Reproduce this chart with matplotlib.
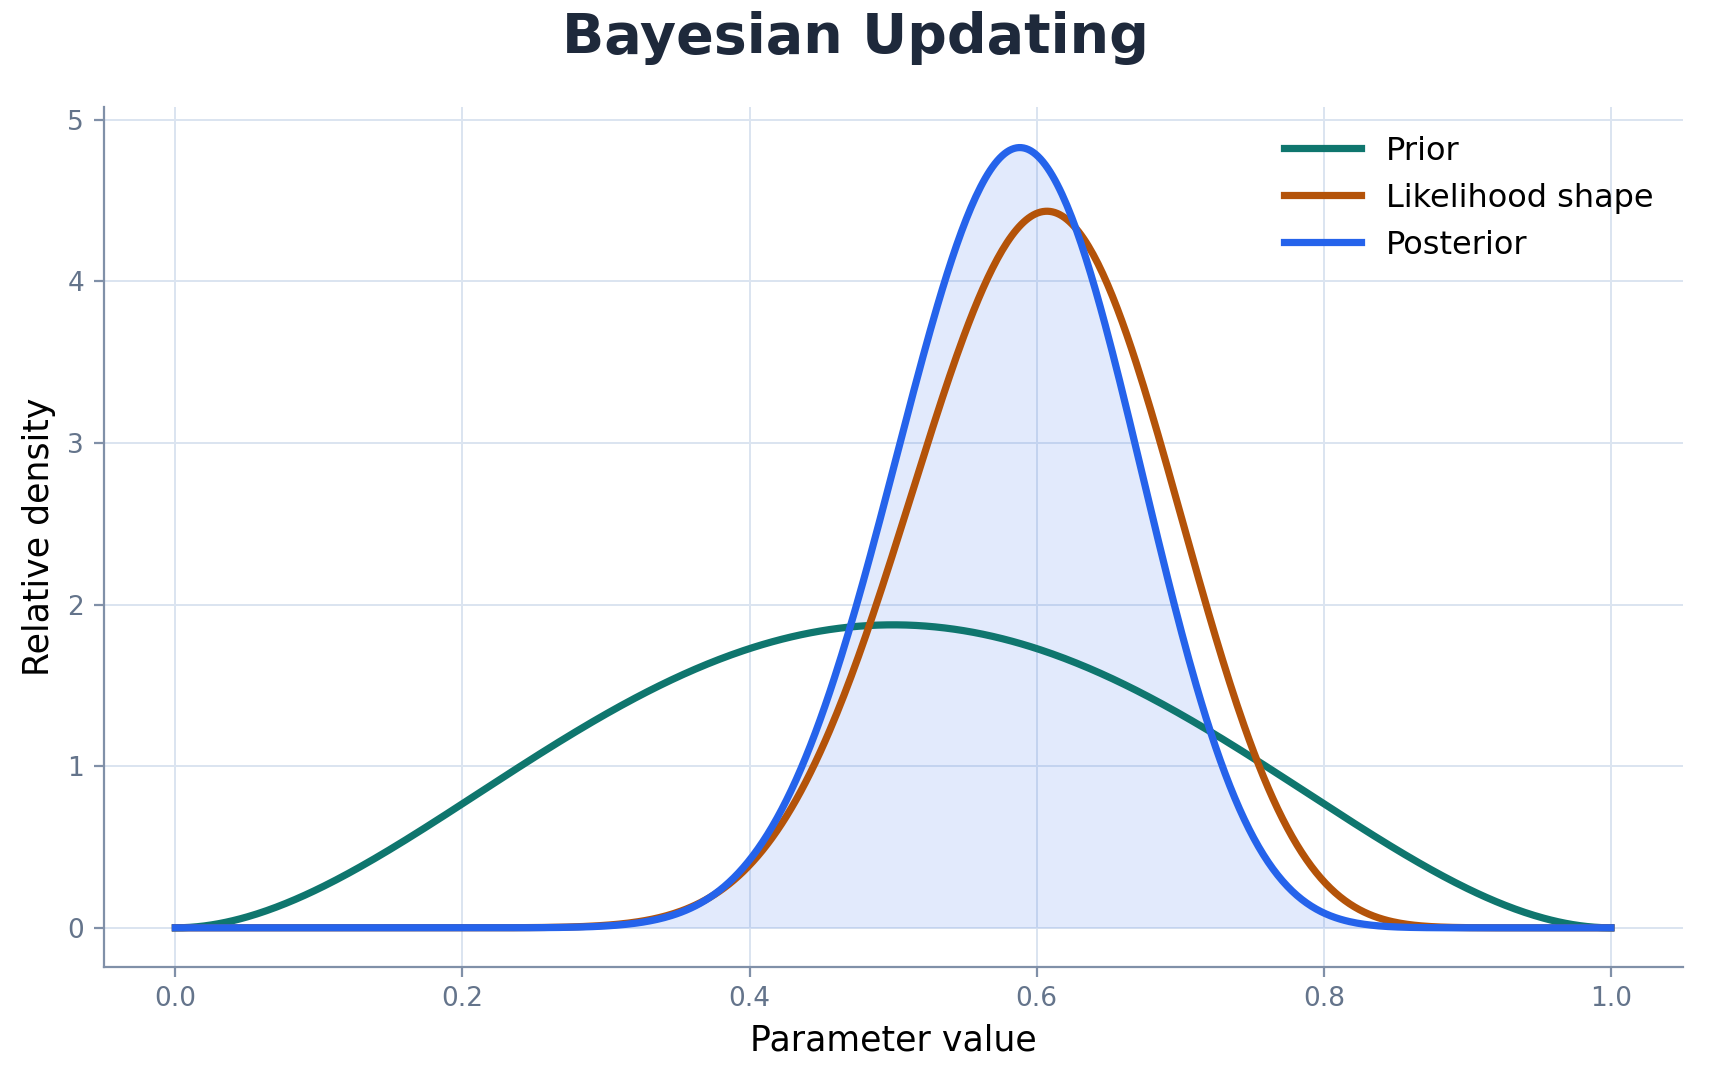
import numpy as np
import matplotlib
matplotlib.use("Agg")
import matplotlib.pyplot as plt
from math import lgamma

# Beta-shaped curves, parameters
prior_ab = (3, 3)          # peak 1.88 at 0.5
likelihood_ab = (18, 12)   # peak ~4.43 at ~0.607
posterior_ab = (21, 15)    # peak ~4.82 at ~0.59
labels = ["Prior", "Likelihood shape", "Posterior"]
colors = ["#0f766e", "#b45309", "#2563eb"]

x = np.linspace(0, 1, 600)

def beta_pdf(x, a, b):
    lb = lgamma(a) + lgamma(b) - lgamma(a + b)
    return np.exp((a - 1) * np.log(np.clip(x, 1e-300, 1)) + (b - 1) * np.log(np.clip(1 - x, 1e-300, 1)) - lb)

fig = plt.figure(figsize=(8.55, 5.4), dpi=200)
ax = fig.add_axes([0.0606, 0.105, 0.9234, 0.796])
ys = [beta_pdf(x, *p) for p in (prior_ab, likelihood_ab, posterior_ab)]
ax.fill_between(x, 0, ys[2], color="#2563eb", alpha=0.13, lw=0)
for y, l, c in zip(ys, labels, colors):
    ax.plot(x, y, color=c, lw=2.6, label=l)

ax.set_ylim(-0.24, 5.08)
ax.grid(True, color="#dbe4f0", lw=0.7)
ax.set_axisbelow(True)
for s in ["top", "right"]:
    ax.spines[s].set_visible(False)
for s in ["left", "bottom"]:
    ax.spines[s].set_color("#8090a8")
ax.tick_params(colors="#8090a8", labelcolor="#64748b", labelsize=9.5)
ax.set_xticks([0, 0.2, 0.4, 0.6, 0.8, 1.0])
ax.set_xlabel("Parameter value", fontsize=12.5)
ax.set_ylabel("Relative density", fontsize=12.5)
fig.suptitle("Bayesian Updating", fontsize=20, fontweight="bold", color="#1e293b", y=0.99)
ax.legend(frameon=False, fontsize=11.5, loc="upper right", handlelength=2.4)
fig.savefig("out.png", dpi=200)
